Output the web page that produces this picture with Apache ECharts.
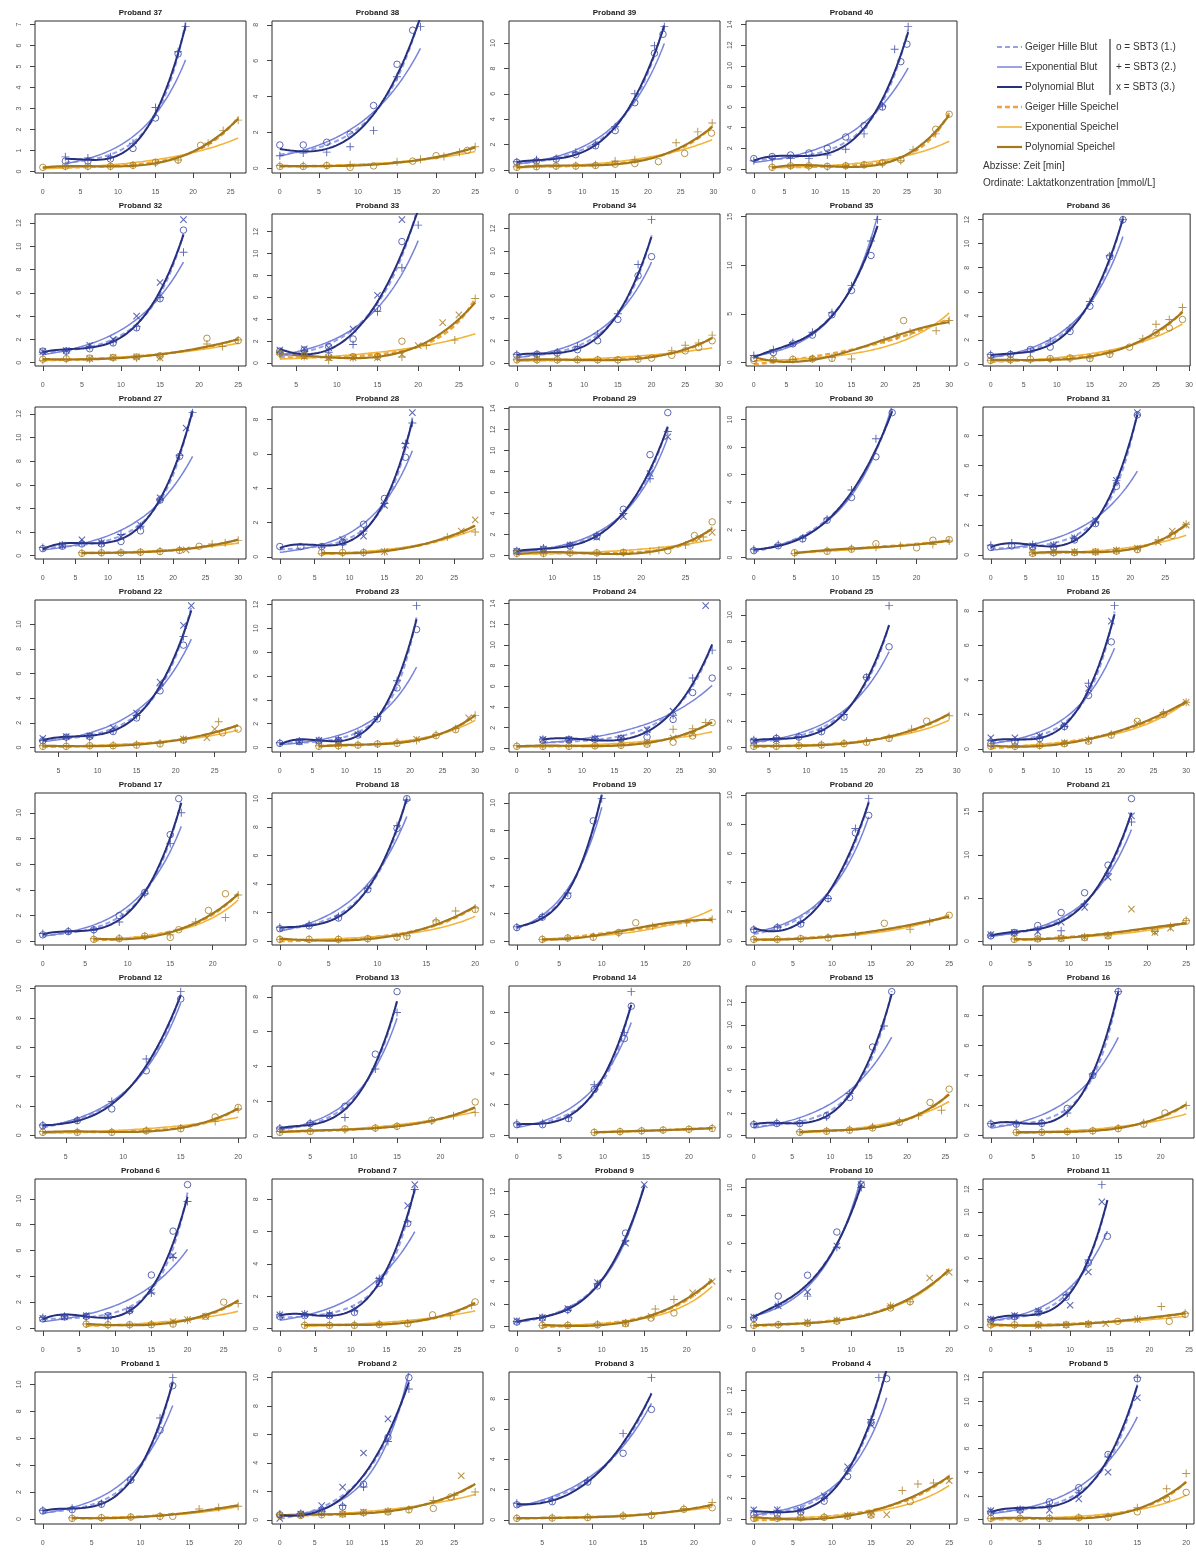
<!DOCTYPE html>
<html>
<head>
<meta charset="utf-8">
<script src="https://cdn.jsdelivr.net/npm/echarts@6/dist/echarts.min.js"></script>
<style>
  html, body { margin: 0; padding: 0; background: #fff; }
  #chart { width: 1196px; height: 1553px; }
</style>
</head>
<body>
<div id="chart"></div>
<script>
// Lactate step tests (SBT3, three runs per subject): blood and saliva lactate [mmol/L] over time [min].
// Each subject: [run 1 (o), run 2 (+), run 3 (x)], each a list of [minute, lactate].

const blut37 = [[[3,0.5],[6,0.5],[9,0.6],[12,1.1],[15,2.55],[18,5.6]],[[3,0.7],[6,0.65],[9,0.7],[12,1.35],[15,3.05],[18,5.7],[19,6.9]],[]];
const speichel37 = [[[0,0.2],[3,0.25],[6,0.25],[9,0.25],[12,0.3],[15,0.45],[18,0.55],[21,1.25]],[[3,0.25],[6,0.25],[9,0.25],[12,0.3],[15,0.4],[18,0.55],[22,1.35],[24,1.95],[26,2.45]],[]];
const blut38 = [[[0,1.3],[3,1.3],[6,1.45],[9,1.9],[12,3.5],[15,5.8],[17,7.7]],[[0,0.7],[3,0.85],[6,0.9],[9,1.2],[12,2.1],[15,5.1],[18,7.9]],[]];
const speichel38 = [[[0,0.1],[3,0.1],[6,0.15],[9,0.05],[12,0.13],[17,0.4],[20,0.7],[24,1.0]],[[0,0.15],[3,0.15],[6,0.15],[9,0.2],[15,0.37],[18,0.5],[21,0.65],[23,0.9],[25,1.2]],[]];
const blut39 = [[[0,0.6],[3,0.7],[6,0.85],[9,1.2],[12,1.9],[15,3.1],[18,5.3],[21,9.2],[22.3,10.7]],[[0,0.65],[3,0.8],[6,0.9],[9,1.4],[12,2.0],[15,3.4],[18,6.0],[21,9.8],[22.5,11.3]],[]];
const speichel39 = [[[0,0.2],[3,0.25],[6,0.3],[9,0.3],[12,0.35],[15,0.45],[18,0.5],[21.6,0.65],[25.6,1.3],[29.7,2.9]],[[0,0.25],[3,0.3],[6,0.3],[9,0.35],[12,0.4],[15,0.7],[18,0.8],[24.3,2.15],[27.6,3.0],[29.8,3.7]],[]];
const blut40 = [[[0,1.0],[3,1.2],[6,1.35],[9,1.55],[12,2.0],[15,3.1],[18,4.2],[21,6.0],[24,10.4],[25,12.1]],[[0,0.8],[3,1.0],[6,1.0],[9,1.0],[12,1.35],[15,1.9],[18,3.4],[21,6.1],[23,11.6],[25.2,13.8]],[]];
const speichel40 = [[[3,0.15],[6,0.3],[9,0.3],[12,0.25],[15,0.3],[18,0.4],[21,0.6],[24,0.9],[29.7,3.85],[31.9,5.3]],[[3,0.2],[6,0.3],[9,0.2],[12,0.2],[15,0.3],[18,0.4],[21,0.5],[24,0.8],[26,1.85],[29.7,3.4]],[]];

const blut32 = [[[0,1.0],[3,1.0],[6,1.2],[9,1.7],[12,3.0],[15,5.5],[18,11.4]],[[0,0.9],[3,1.0],[6,1.4],[9,1.8],[12,3.1],[15,5.6],[18,9.5]],[[0,0.95],[3,1.05],[6,1.5],[9,2.0],[12,4.0],[15,6.9],[18,12.3]]];
const speichel32 = [[[0,0.3],[3,0.35],[6,0.4],[9,0.45],[12,0.5],[15,0.6],[21,2.1],[25,1.9]],[[0,0.2],[3,0.3],[6,0.3],[9,0.4],[12,0.4],[15,0.5],[21,1.6],[23,1.4],[25,1.95]],[[6,0.35],[9,0.45],[12,0.5],[15,0.4]]];
const blut33 = [[[3,1.1],[6,1.2],[9,1.5],[12,2.2],[15,5.0],[18,11.1]],[[3,1.0],[6,1.1],[9,1.0],[12,1.7],[15,4.7],[18,8.7],[20,12.6]],[[3,1.2],[6,1.3],[9,1.4],[12,3.1],[15,6.2],[18,13.1]]];
const speichel33 = [[[3,0.9],[6,0.7],[9,0.6],[12,0.6],[15,0.6],[18,2.0]],[[3,0.8],[6,0.6],[9,0.25],[12,0.5],[15,0.55],[18,0.55],[21,1.6],[24.5,2.1],[27,5.9]],[[6,0.6],[9,0.5],[12,0.5],[15,0.5],[18,0.8],[20,1.6],[23,3.7],[25,4.4]]];
const blut34 = [[[0,0.7],[3,0.8],[6,0.9],[9,1.2],[12,2.0],[15,3.9],[18,7.8],[20,9.5]],[[0,0.8],[3,0.8],[6,1.0],[9,1.5],[12,2.6],[15,4.4],[18,8.8],[20,12.8]],[]];
const speichel34 = [[[0,0.3],[3,0.3],[6,0.3],[9,0.3],[12,0.3],[15,0.3],[18,0.35],[20,0.45],[23,0.7],[25,1.1],[27,1.4],[29,2.0]],[[0,0.3],[3,0.3],[6,0.3],[9,0.35],[12,0.3],[15,0.25],[18,0.4],[23,1.1],[25,1.6],[27,1.8],[29,2.5]],[]];
const blut35 = [[[0,0.4],[3,1.0],[6,1.9],[9,2.8],[12,4.9],[15,7.4],[18,11.0]],[[0,0.7],[3,1.3],[6,2.05],[9,3.1],[12,5.1],[15,7.9],[18,12.5],[19,14.7]],[]];
const speichel35 = [[[0,0.2],[3,0.25],[6,0.3],[9,0.35],[12,0.4],[23,4.3]],[[3,0.3],[6,0.3],[9,0.4],[12,0.5],[15,0.35],[20,2.3],[22,2.7],[24,3.1],[28,3.25],[30,4.3]],[]];
const blut36 = [[[0,0.7],[3,0.8],[6,1.2],[9,1.4],[12,2.7],[15,4.8],[18,8.9],[20,12.0]],[[0,0.8],[3,0.8],[6,1.0],[9,1.9],[12,3.0],[15,5.2],[18,9.0],[20,12.0]],[]];
const speichel36 = [[[0,0.3],[3,0.35],[6,0.4],[9,0.45],[12,0.5],[15,0.45],[18,0.8],[21,1.4],[25,2.6],[27,3.0],[29,3.7]],[[0,0.3],[3,0.3],[6,0.35],[9,0.4],[12,0.45],[15,0.5],[18,0.85],[23,2.1],[25,3.3],[27,3.7],[29,4.7]],[]];

const blut27 = [[[0,0.6],[3,0.8],[6,1.0],[9,1.0],[12,1.2],[15,2.1],[18,4.7],[21,8.4]],[[0,0.7],[3,0.9],[6,1.1],[9,1.1],[12,1.8],[15,2.5],[18,4.8],[21,8.5],[23,12.1]],[[3,0.9],[6,1.35],[9,1.1],[12,1.6],[15,2.6],[18,4.9],[22,10.8]]];
const speichel27 = [[[6,0.2],[9,0.25],[12,0.25],[15,0.3],[18,0.35],[21,0.45],[24,0.8]],[[6,0.25],[9,0.3],[12,0.3],[15,0.3],[18,0.4],[21,0.5],[26,1.0],[28,1.1],[30,1.3]],[[22,0.5]]];
const blut28 = [[[0,0.6],[3,0.6],[6,0.6],[9,0.85],[12,1.9],[15,3.4],[18,5.8]],[[6,0.55],[9,0.7],[12,1.5],[15,3.1],[18,6.6],[19,7.8]],[[9,1.0],[12,1.2],[15,3.0],[18,6.5],[19,8.4]]];
const speichel28 = [[[6,0.25],[9,0.25],[12,0.25]],[[6,0.2],[9,0.2],[12,0.25],[15,0.3],[24,1.15],[28,1.45]],[[15,0.3],[26,1.5],[28,2.15]]];
const blut29 = [[[6,0.4],[9,0.6],[12,0.9],[15,1.8],[18,4.4],[21,9.6],[23,13.6]],[[6,0.45],[9,0.7],[12,1.0],[15,1.9],[18,4.0],[21,7.3],[23,11.8]],[[6,0.4],[9,0.6],[12,1.0],[15,1.75],[18,3.7],[21,7.8],[23,11.3]]];
const speichel29 = [[[6,0.2],[9,0.2],[12,0.25],[15,0.25],[18,0.3],[23,0.45],[26,1.9],[28,3.2]],[[6,0.2],[9,0.2],[12,0.2],[15,0.25],[18,0.25],[21,0.4],[22,0.5],[25,1.0],[27,1.75]],[[26.5,1.6],[28,2.2]]];
const blut30 = [[[0,0.5],[3,0.85],[6,1.35],[9,2.7],[12,4.35],[15,7.3],[17,10.5]],[[0,0.6],[3,0.95],[6,1.4],[9,2.8],[12,4.9],[15,8.6]],[]];
const speichel30 = [[[5,0.35],[9,0.45],[12,0.6],[15,1.0],[20,0.7],[22,1.25],[24,1.3]],[[5,0.3],[9,0.5],[12,0.65],[15,0.75],[18,0.85],[22,0.95],[24,1.2]],[]];
const blut31 = [[[0,0.5],[3,0.6],[6,0.55],[9,0.5],[12,1.0],[15,2.1],[18,4.6],[21,9.4]],[[0,0.65],[3,0.8],[6,0.7],[9,0.65],[12,1.1],[15,2.2],[18,5.0]],[[6,0.6],[9,0.65],[12,1.15],[15,2.3],[18,5.0],[21,9.55]]];
const speichel31 = [[[6,0.1],[9,0.15],[12,0.15],[15,0.2],[18,0.25],[21,0.35],[26,1.3]],[[6,0.15],[9,0.15],[12,0.2],[15,0.2],[18,0.3],[21,0.4],[24,1.0],[28,2.05]],[[6,0.15],[9,0.2],[12,0.2],[15,0.2],[18,0.3],[21,0.45],[24,0.85],[26,1.6],[28,2.0]]];

const blut22 = [[[3,0.55],[6,0.85],[9,0.9],[12,1.3],[15,2.4],[18,4.6],[21,8.3]],[[3,0.6],[6,0.8],[9,0.85],[12,1.4],[15,2.6],[18,5.0],[21,9.0]],[[3,0.75],[6,0.9],[9,0.95],[12,1.6],[15,2.8],[18,5.3],[21,9.9],[22,11.5]]];
const speichel22 = [[[3,0.1],[6,0.1],[9,0.15],[12,0.15],[15,0.2],[18,0.3],[21,0.6],[26,1.2],[28,1.5]],[[3,0.15],[6,0.15],[9,0.2],[12,0.2],[15,0.25],[18,0.35],[21,0.65],[25.5,2.1]],[[21,0.7],[24,0.8],[25,1.5]]];
const blut23 = [[[0,0.35],[3,0.5],[6,0.55],[9,0.6],[12,1.05],[15,2.4],[18,5.0],[21,9.9]],[[0,0.4],[3,0.55],[6,0.6],[9,0.65],[12,1.2],[15,2.6],[18,5.6],[21,11.9]],[[3,0.5],[6,0.6],[9,0.6],[12,1.1]]];
const speichel23 = [[[6,0.1],[9,0.15],[12,0.2],[15,0.3],[18,0.35],[24,1.0],[27,1.5]],[[6,0.15],[9,0.15],[12,0.25],[15,0.3],[18,0.45],[21,0.6],[24,1.1],[27,1.6],[30,2.7]],[[21,0.7],[29,2.5]]];
const blut24 = [[[4,0.8],[8,0.85],[12,0.9],[16,0.95],[20,1.1],[24,2.8],[27,5.4],[30,6.8]],[[4,0.9],[8,0.9],[12,0.95],[16,1.0],[20,1.6],[24,3.2],[27,6.8],[30,9.5]],[[4,0.87],[8,0.87],[12,0.95],[16,1.0],[20,1.8],[24,3.6],[29,13.8]]];
const speichel24 = [[[0,0.2],[4,0.2],[8,0.2],[12,0.25],[16,0.3],[20,0.4],[24,0.6],[27,1.2],[30,2.5]],[[0,0.25],[4,0.25],[8,0.25],[12,0.3],[16,0.35],[20,0.55],[24,1.85],[27,1.9],[29,2.5]],[[20,0.5],[24,1.0],[27,1.4]]];
const blut25 = [[[3,0.5],[6,0.7],[9,0.8],[12,1.2],[15,2.3],[18,5.3],[21,7.6]],[[3,0.6],[6,0.75],[9,0.85],[12,1.3],[15,2.5],[18,5.3],[21,10.7]],[[3,0.5],[6,0.6]]];
const speichel25 = [[[3,0.1],[6,0.1],[9,0.15],[12,0.2],[15,0.3],[18,0.4],[21,0.7],[26,2.0]],[[3,0.15],[6,0.15],[9,0.2],[12,0.25],[15,0.35],[18,0.5],[21,0.75],[24,1.4],[29,2.4]],[]];
const blut26 = [[[0,0.3],[3.7,0.4],[7.5,0.6],[11.3,1.3],[15,3.1],[18.5,6.2]],[[0,0.5],[3.7,0.5],[7.5,0.7],[11.3,1.3],[15,3.8],[19,8.3]],[[0,0.65],[3.7,0.65],[7.5,0.75],[11.3,1.4],[15,3.5],[18.5,7.4]]];
const speichel26 = [[[0,0.15],[3.7,0.15],[7.5,0.2],[11.3,0.3],[15,0.45],[18.5,0.8],[22.5,1.6],[26.5,2.0]],[[0,0.2],[3.7,0.2],[7.5,0.2],[11.3,0.35],[15,0.55],[18.5,0.85],[26.5,2.1],[30,2.7]],[[11.3,0.35],[15,0.5],[22.5,1.5],[30,2.7]]];

const blut17 = [[[0,0.5],[3,0.75],[6,0.9],[9,2.0],[12,3.8],[15,8.3],[16,11.1]],[[0,0.6],[3,0.8],[6,0.85],[9,1.5],[12,3.7],[15,7.6],[16.3,10.0]],[]];
const speichel17 = [[[6,0.15],[9,0.2],[12,0.4],[15,0.3],[16,0.9],[19.5,2.4],[21.5,3.7]],[[6,0.2],[9,0.25],[12,0.4],[15,0.5],[18,1.5],[21.5,1.85],[23,3.6]],[]];
const blut18 = [[[0,0.85],[3,1.05],[6,1.6],[9,3.6],[12,7.9],[13,10.0]],[[0,0.95],[3,1.15],[6,1.7],[9,3.7],[12,8.1],[13,9.9]],[]];
const speichel18 = [[[0,0.1],[3,0.1],[6,0.1],[9,0.15],[12,0.25],[13,0.3],[16,1.3],[20,2.2]],[[0,0.1],[3,0.1],[6,0.1],[9,0.15],[12,0.3],[13,0.35],[16,1.4],[18,2.1],[20,2.3]],[]];
const blut19 = [[[0,1.0],[3,1.75],[6,3.3],[9,8.7]],[[0,1.05],[3,1.8],[6,3.5],[10,10.3]],[]];
const speichel19 = [[[3,0.15],[6,0.25],[9,0.3],[12,0.65],[14,1.35]],[[3,0.15],[6,0.25],[9,0.35],[12,0.6],[16,1.1],[20,1.35],[23,1.6]],[]];
const blut20 = [[[0,0.75],[3,0.9],[6,1.15],[9.5,2.9],[13,7.4],[14.7,8.6]],[[0,0.8],[3,0.95],[6,1.25],[9.5,2.9],[13,7.7],[14.7,9.75]],[]];
const speichel20 = [[[0,0.1],[3,0.1],[6,0.15],[9.5,0.2],[16.7,1.2],[25,1.75]],[[0,0.1],[3,0.1],[6,0.15],[9.5,0.25],[13,0.4],[20,0.8],[22.5,1.3]],[]];
const blut21 = [[[0,0.6],[3,1.0],[6,1.8],[9,3.3],[12,5.6],[15,8.8],[18,16.5]],[[0,0.7],[3,0.9],[6,1.3],[9,1.2],[12,4.3],[15,7.8],[18,13.8]],[[0,0.75],[3,1.0],[6,1.1],[9,2.2],[12,3.9],[15,7.4],[18,14.5]]];
const speichel21 = [[[3,0.2],[6,0.25],[9,0.3],[12,0.4],[15,0.6],[21,1.2],[25,2.3]],[[3,0.25],[6,0.3],[9,0.35],[12,0.5],[15,0.7],[21,1.1],[23,1.7],[25,2.4]],[[6,0.3],[9,0.35],[12,0.45],[15,0.65],[18,3.7],[21,1.0],[23,1.5]]];

const blut12 = [[[3,0.65],[6,1.0],[9,1.8],[12,4.4],[15,9.3]],[[3,0.7],[6,1.05],[9,2.3],[12,5.2],[15,9.8]],[]];
const speichel12 = [[[3,0.2],[6,0.2],[9,0.2],[12,0.3],[15,0.45],[18,1.25],[20,1.9]],[[3,0.25],[6,0.25],[9,0.25],[12,0.35],[15,0.5],[18,0.95],[20,1.8]],[]];
const blut13 = [[[1.5,0.4],[5,0.7],[9,1.7],[12.5,4.7],[15,8.3]],[[1.5,0.45],[5,0.75],[9,1.05],[12.5,3.85],[15,7.1]],[]];
const speichel13 = [[[1.5,0.2],[5,0.25],[9,0.4],[12.5,0.45],[15,0.55],[19,0.9],[24,1.95]],[[1.5,0.25],[5,0.3],[9,0.35],[12.5,0.45],[15,0.55],[19,0.85],[21.5,1.15],[24,1.35]],[]];
const blut14 = [[[0,0.7],[3,0.7],[6,1.1],[9,3.0],[12.5,6.3],[13.3,8.4]],[[0,0.8],[3,0.8],[6,1.15],[9,3.3],[12.5,6.7],[13.3,9.35]],[]];
const speichel14 = [[[9,0.2],[12,0.25],[14.5,0.3],[17,0.35],[20,0.4],[22.7,0.45]],[[9,0.2],[12,0.25],[14.5,0.3],[17,0.35],[20,0.4],[22.7,0.5]],[]];
const blut15 = [[[0,1.0],[3,1.1],[6,1.1],[9.5,1.8],[12.5,3.45],[15.5,8.0],[18,13.0]],[[0,1.05],[3,1.2],[6,1.2],[9.5,1.7],[12.5,3.8],[17,9.9]],[]];
const speichel15 = [[[6,0.3],[9.5,0.4],[12.5,0.5],[15.5,0.7],[19,1.2],[23,3.0],[25.5,4.2]],[[6,0.35],[9.5,0.45],[12.5,0.55],[15.5,0.8],[19,1.3],[21.5,1.8],[24.5,2.3]],[]];
const blut16 = [[[0,0.75],[3,0.75],[6,0.8],[9,1.8],[12,4.0],[15,9.6]],[[0,0.8],[3,0.8],[6,0.85],[9,1.5],[12,4.1],[15,9.6]],[]];
const speichel16 = [[[3,0.2],[6,0.2],[9,0.25],[12,0.3],[15,0.45],[18,0.75],[20.5,1.5]],[[3,0.2],[6,0.25],[9,0.25],[12,0.3],[15,0.5],[18,0.85],[23,2.0]],[]];

const blut6 = [[[0,0.7],[3,0.85],[6,0.9],[9,0.95],[12,1.35],[15,4.1],[18,7.5],[20,11.1]],[[0,0.8],[3,0.9],[6,0.9],[9,0.75],[12,1.3],[15,2.7],[18,5.45],[20,9.8]],[[0,0.75],[3,0.85],[6,0.95],[9,0.9],[12,1.4],[15,2.8],[18,5.6]]];
const speichel6 = [[[6,0.3],[9,0.25],[12,0.25],[15,0.25],[18,0.3],[22.5,0.9],[25,2.0]],[[6,0.3],[9,0.2],[12,0.25],[15,0.3],[18,0.4],[20,0.6],[27,1.9]],[[18,0.5],[20,0.65],[22.5,0.9]]];
const blut7 = [[[0,0.75],[3.5,0.8],[7,0.8],[10.5,1.0],[14,2.8],[18,6.5]],[[0,0.85],[3.5,0.9],[7,0.9],[10.5,1.1],[14,3.1],[18,6.6],[19,8.6]],[[0,0.85],[3.5,0.9],[7,0.85],[10.5,1.2],[14,3.0],[18,7.6],[19,8.9]]];
const speichel7 = [[[3.5,0.2],[7,0.2],[10.5,0.2],[14,0.25],[18,0.3],[21.5,0.85],[27.5,1.65]],[[3.5,0.25],[7,0.25],[10.5,0.25],[14,0.3],[18,0.35],[24,0.8],[27,1.45]],[]];
const blut9 = [[[0,0.4],[3,0.75],[6,1.5],[9.5,3.6],[12.8,8.3]],[[0,0.45],[3,0.8],[6,1.45],[9.5,3.8],[12.8,7.6]],[[0,0.5],[3,0.8],[6,1.6],[9.5,3.9],[12.8,7.4],[15,12.6]]];
const speichel9 = [[[3,0.1],[6,0.1],[9.5,0.15],[12.8,0.25],[15.8,0.75],[18.5,1.2]],[[3,0.1],[6,0.15],[9.5,0.2],[12.8,0.3],[16.3,1.55],[18.5,2.4]],[[12.8,0.3],[15.8,0.9],[20.7,3.0],[23,4.0]]];
const blut10 = [[[0,0.6],[2.5,2.2],[5.5,3.7],[8.5,6.8],[11,10.2]],[[0,0.65],[2.5,1.6],[5.5,2.2],[8.5,5.7],[11,10.0]],[[0,0.7],[2.5,1.5],[5.5,2.5],[8.5,5.8],[11,10.2]]];
const speichel10 = [[[0,0.1],[2.5,0.15],[5.5,0.25],[8.5,0.4],[14,1.35],[16,1.8]],[[0,0.1],[2.5,0.15],[5.5,0.3],[8.5,0.45],[14,1.5],[16,1.8]],[[5.5,0.3],[8.5,0.45],[14,1.45],[18,3.5],[20,3.9]]];
const blut11 = [[[0,0.6],[3,0.9],[6,1.25],[9.5,2.6],[12.3,5.6],[14.7,7.9]],[[0,0.65],[3,0.95],[6,1.35],[9.5,2.8],[12.3,5.85],[14,12.4]],[[0,0.7],[3,1.0],[6,1.4],[10,1.9],[12.3,4.8],[14,10.9]]];
const speichel11 = [[[0,0.2],[3,0.2],[6,0.2],[9.5,0.2],[12.3,0.25],[16,0.5],[22.5,0.5],[24.5,1.1]],[[0,0.2],[3,0.2],[6,0.2],[9.5,0.2],[12.3,0.3],[18.5,0.7],[21.5,1.8],[24.5,1.2]],[[6,0.15],[9.5,0.2],[12.3,0.25],[14.5,0.3],[18.5,0.65]]];

const blut1 = [[[0,0.6],[3,0.7],[6,1.1],[9,2.9],[12,6.6],[13.3,9.9]],[[0,0.65],[3,0.8],[6,1.15],[9,2.9],[12,7.5],[13.3,10.5]],[]];
const speichel1 = [[[3,0.05],[6,0.1],[9,0.15],[12,0.2],[13.3,0.2]],[[3,0.1],[6,0.1],[9,0.15],[12,0.2],[16,0.75],[18,0.85],[20,0.95]],[]];
const blut2 = [[[0,0.35],[3,0.4],[6,0.55],[9,0.9],[12,2.5],[15.5,5.8],[18.5,10.0]],[[0,0.4],[3,0.45],[6,0.6],[9,1.0],[12,2.3],[15.5,5.5],[18.5,9.2]],[[0,0.1],[3,0.4],[6,1.0],[9,2.3],[12,4.7],[15.5,7.1]]];
const speichel2 = [[[0,0.3],[3,0.3],[6,0.35],[9,0.4],[12,0.5],[15.5,0.55],[18.5,0.7],[22,0.8],[24.5,1.6]],[[0,0.35],[3,0.35],[6,0.4],[9,0.45],[12,0.5],[15.5,0.6],[18.5,0.75],[22,1.35],[25,1.7],[28,1.95]],[[9,0.4],[12,0.55],[15.5,0.6],[26,3.1]]];
const blut3 = [[[2.5,1.0],[6,1.2],[9.5,2.5],[13,4.4],[15.8,7.3]],[[2.5,1.1],[6,1.3],[9.5,2.6],[13,5.7],[15.8,9.4]],[]];
const speichel3 = [[[2.5,0.1],[6,0.12],[9.5,0.15],[13,0.25],[15.8,0.3],[19,0.7],[21.8,0.8]],[[2.5,0.12],[6,0.15],[9.5,0.2],[13,0.3],[15.8,0.35],[19,0.75],[21.8,1.15]],[]];
const blut4 = [[[0,0.45],[3,0.5],[6,0.7],[9,1.7],[12,4.0],[15,9.0],[17,13.1]],[[0,0.8],[3,0.85],[6,0.9],[9,2.0],[12,4.5],[15,9.3],[16,13.2]],[[0,0.9],[3,0.9],[6,0.85],[9,2.2],[12,4.9],[15,8.8]]];
const speichel4 = [[[0,0.1],[3,0.1],[6,0.15],[9,0.2],[12,0.3],[15,0.4],[20,1.65]],[[0,0.15],[3,0.15],[6,0.2],[9,0.25],[12,0.35],[15,0.5],[19,2.7],[21,3.3],[23,3.4],[25,3.8]],[[12,0.35],[15,0.45],[17,0.45],[25,3.6]]];
const blut5 = [[[0,0.6],[3,0.8],[6,1.5],[9,2.7],[12,5.5],[15,11.9]],[[0,0.7],[3,0.85],[6,1.2],[9,2.3],[12,5.3],[15,12.0]],[[0,0.75],[3,0.85],[6,0.8],[9,1.75],[12,4.0],[15,10.3]]];
const speichel5 = [[[0,0.1],[3,0.1],[6,0.1],[9,0.15],[12,0.2],[15,0.65],[18,1.75],[20,2.3]],[[0,0.1],[3,0.1],[6,0.15],[9,0.2],[12,0.25],[15,1.0],[18,2.6],[20,3.9]],[]];

// Panel order, row by row (0 marks the legend cell).
const panelOrder = [37,38,39,40,0, 32,33,34,35,36, 27,28,29,30,31, 22,23,24,25,26, 17,18,19,20,21, 12,13,14,15,16, 6,7,9,10,11, 1,2,3,4,5];
// Tick spacing of the lactate axis in each panel (same order), and of the time axis.
const yTickStep = [1,2,2,2,0, 2,2,2,5,2, 2,2,2,2,2, 2,2,2,2,2, 2,2,2,2,5, 2,2,2,2,2, 2,2,2,2,2, 2,2,2,2,2];
const xTickStep = 5;

const legendLines = ['Geiger Hille Blut','Exponential Blut','Polynomial Blut','Geiger Hille Speichel','Exponential Speichel','Polynomial Speichel'];
const legendRuns = ['o = SBT3 (1.)','+ = SBT3 (2.)','x = SBT3 (3.)'];
const axisNotes = ['Abzisse: Zeit [min]','Ordinate: Laktatkonzentration [mmol/L]'];

const blutSets = {1:blut1,2:blut2,3:blut3,4:blut4,5:blut5,6:blut6,7:blut7,9:blut9,10:blut10,11:blut11,12:blut12,13:blut13,14:blut14,15:blut15,16:blut16,17:blut17,18:blut18,19:blut19,20:blut20,21:blut21,22:blut22,23:blut23,24:blut24,25:blut25,26:blut26,27:blut27,28:blut28,29:blut29,30:blut30,31:blut31,32:blut32,33:blut33,34:blut34,35:blut35,36:blut36,37:blut37,38:blut38,39:blut39,40:blut40};
const speichelSets = {1:speichel1,2:speichel2,3:speichel3,4:speichel4,5:speichel5,6:speichel6,7:speichel7,9:speichel9,10:speichel10,11:speichel11,12:speichel12,13:speichel13,14:speichel14,15:speichel15,16:speichel16,17:speichel17,18:speichel18,19:speichel19,20:speichel20,21:speichel21,22:speichel22,23:speichel23,24:speichel24,25:speichel25,26:speichel26,27:speichel27,28:speichel28,29:speichel29,30:speichel30,31:speichel31,32:speichel32,33:speichel33,34:speichel34,35:speichel35,36:speichel36,37:speichel37,38:speichel38,39:speichel39,40:speichel40};

// ---- styling ----
const FONT = '"Liberation Sans", Arial, Helvetica, sans-serif';
const COL_X = [35, 272, 509, 746, 983];
const ROW_Y0 = 21, ROW_STEP = 193, PW = 211, PH = 152;
const BLUT_POINT = '#3443a0';
const SPEICHEL_POINT = '#a57a1e';
const CURVE = {
  ghBlut:   { color: '#97a1ea', width: 2,   type: [5, 3] },
  expBlut:  { color: '#7784da', width: 1.5, type: 'solid' },
  polyBlut: { color: '#252f7c', width: 2,   type: 'solid' },
  ghSp:     { color: '#eea536', width: 2.5, type: [5, 3] },
  expSp:    { color: '#f2b43a', width: 1.6, type: 'solid' },
  polySp:   { color: '#a3771c', width: 2.2, type: 'solid' }
};
const PLUS = 'path://M4.4,0H5.6V10H4.4Z M0,4.4H10V5.6H0Z';

// ---- least-squares fits of the three curve models ----
function solve(A, b) {
  const n = b.length;
  const M = A.map((row, i) => row.concat([b[i]]));
  for (let c = 0; c < n; c++) {
    let p = c;
    for (let r = c + 1; r < n; r++) if (Math.abs(M[r][c]) > Math.abs(M[p][c])) p = r;
    const tmp = M[c]; M[c] = M[p]; M[p] = tmp;
    const d = M[c][c];
    if (Math.abs(d) < 1e-12) return null;
    for (let r = 0; r < n; r++) {
      if (r === c) continue;
      const f = M[r][c] / d;
      for (let k = c; k <= n; k++) M[r][k] -= f * M[c][k];
    }
  }
  return M.map((row, i) => row[n] / row[i]);
}
function leastSquares(pts, basis) {
  const n = basis.length;
  const A = [], v = [];
  for (let i = 0; i < n; i++) { A.push(new Array(n).fill(0)); v.push(0); }
  pts.forEach(([x, y]) => {
    const f = basis.map(fn => fn(x));
    for (let i = 0; i < n; i++) {
      v[i] += f[i] * y;
      for (let j = 0; j < n; j++) A[i][j] += f[i] * f[j];
    }
  });
  return solve(A, v);
}
function fitPolynomial(pts) {
  const xs = pts.map(p => p[0]);
  const lo = Math.min(...xs), hi = Math.max(...xs);
  const mid = (lo + hi) / 2, half = (hi - lo) / 2 || 1;
  const deg = Math.min(3, new Set(xs).size - 1);
  const basis = [];
  for (let k = 0; k <= deg; k++) basis.push(x => Math.pow((x - mid) / half, k));
  const c = leastSquares(pts, basis);
  return x => basis.reduce((s, fn, k) => s + c[k] * fn(x), 0);
}
function fitExponential(pts) {
  const lp = pts.filter(p => p[1] > 0).map(([x, y]) => [x, Math.log(y)]);
  const c = leastSquares(lp, [() => 1, x => x]);
  return x => Math.exp(c[0] + c[1] * x);
}
function fitGeigerHille(pts) {
  const hi = Math.max(...pts.map(p => p[0]));
  let best = null;
  for (let b = 0.01; b <= 1.2; b += 0.005) {
    const basis = [() => 1, x => Math.exp(b * (x - hi))];
    const c = leastSquares(pts, basis);
    if (!c || c[1] <= 0) continue;
    let sse = 0;
    pts.forEach(([x, y]) => { const e = c[0] + c[1] * basis[1](x) - y; sse += e * e; });
    if (!best || sse < best.sse) best = { sse, c, b };
  }
  if (!best) return fitExponential(pts);
  return x => best.c[0] + best.c[1] * Math.exp(best.b * (x - hi));
}
function curve(fn, lo, hi) {
  const out = [];
  for (let k = 0; k <= 80; k++) { const x = lo + (hi - lo) * k / 80; out.push([x, fn(x)]); }
  return out;
}
function ticksWithin(lo, hi, step) {
  const out = [];
  for (let v = Math.ceil(lo / step - 1e-9) * step; v <= hi + 1e-9; v += step) out.push(Math.round(v * 1000) / 1000);
  return out;
}

// ---- build option ----
const grids = [], xAxes = [], yAxes = [], series = [], graphics = [];
let g = 0;
panelOrder.forEach((id, cell) => {
  if (!id) return;
  const col = cell % 5, row = Math.floor(cell / 5);
  const left = COL_X[col], top = ROW_Y0 + row * ROW_STEP;
  const blut = blutSets[id], sp = speichelSets[id];
  const allB = blut.flat(), allS = sp.flat(), all = allB.concat(allS);
  const xs = all.map(p => p[0]), ys = all.map(p => p[1]);
  const x0 = Math.min(...xs), x1 = Math.max(...xs), y0 = Math.min(...ys), y1 = Math.max(...ys);
  const px = 0.04 * (x1 - x0), py = 0.04 * (y1 - y0);
  const xr = [x0 - px, x1 + px], yr = [y0 - py, y1 + py];
  const xt = ticksWithin(xr[0], xr[1], xTickStep);
  const yt = ticksWithin(yr[0], yr[1], yTickStep[cell]);

  grids.push({ left, top, width: PW, height: PH, show: true, borderColor: '#2b2b2b', borderWidth: 1, backgroundColor: '#fff' });
  xAxes.push({
    type: 'value', gridIndex: g, min: xr[0], max: xr[1],
    axisLine: { show: false, onZero: false }, splitLine: { show: false },
    axisTick: { show: true, inside: false, length: 5, customValues: xt, lineStyle: { color: '#444', width: 1 } },
    axisLabel: { show: true, customValues: xt, fontSize: 7, color: '#555', margin: 16, fontFamily: FONT }
  });
  yAxes.push({
    type: 'value', gridIndex: g, min: yr[0], max: yr[1],
    axisLine: { show: false, onZero: false }, splitLine: { show: false },
    axisTick: { show: true, inside: false, length: 5, customValues: yt, lineStyle: { color: '#444', width: 1 } },
    axisLabel: { show: true, customValues: yt, rotate: 90, fontSize: 7, color: '#555', margin: 12, fontFamily: FONT }
  });

  const bLo = Math.min(...allB.map(p => p[0])), bHi = Math.max(...allB.map(p => p[0]));
  const sLo = Math.min(...allS.map(p => p[0])), sHi = Math.max(...allS.map(p => p[0]));
  const lines = [
    [fitGeigerHille(allS), sLo, sHi, CURVE.ghSp],
    [fitExponential(allS), sLo, sHi, CURVE.expSp],
    [fitPolynomial(allS), sLo, sHi, CURVE.polySp],
    [fitGeigerHille(allB), bLo, bHi, CURVE.ghBlut],
    [fitExponential(allB), bLo, bHi, CURVE.expBlut],
    [fitPolynomial(allB), bLo, bHi, CURVE.polyBlut]
  ];
  lines.forEach(([fn, lo, hi, st], k) => {
    series.push({
      type: 'line', xAxisIndex: g, yAxisIndex: g, data: curve(fn, lo, hi),
      showSymbol: false, symbol: 'none', clip: true, silent: true, z: 2 + k * 0.01,
      lineStyle: { color: st.color, width: st.width, type: st.type, cap: 'butt' }
    });
  });

  [[blut, BLUT_POINT], [sp, SPEICHEL_POINT]].forEach(([runs, color]) => {
    runs.forEach((pts, r) => {
      if (!pts.length) return;
      const s = { type: 'scatter', xAxisIndex: g, yAxisIndex: g, data: pts, silent: true, z: 4, clip: false };
      if (r === 0) {
        s.symbol = 'circle'; s.symbolSize = 6.5;
        s.itemStyle = { color: 'rgba(0,0,0,0)', borderColor: color, borderWidth: 1 };
      } else if (r === 1) {
        s.symbol = PLUS; s.symbolSize = 8; s.itemStyle = { color };
      } else {
        s.symbol = PLUS; s.symbolSize = 9; s.symbolRotate = 45; s.itemStyle = { color };
      }
      series.push(s);
    });
  });

  graphics.push({
    type: 'text', x: left + PW / 2, y: top - 8, silent: true,
    style: { text: 'Proband ' + id, align: 'center', verticalAlign: 'middle', font: 'bold 8px ' + FONT, fill: '#222' }
  });
  g++;
});

// ---- legend (top right cell) ----
const legendStyles = [CURVE.ghBlut, CURVE.expBlut, CURVE.polyBlut, CURVE.ghSp, CURVE.expSp, CURVE.polySp];
const legendY = [47, 67, 87, 107, 127, 147];
legendLines.forEach((label, i) => {
  const st = legendStyles[i];
  graphics.push({
    type: 'line', silent: true,
    shape: { x1: 997, y1: legendY[i], x2: 1022, y2: legendY[i] },
    style: { stroke: st.color, lineWidth: st.width, lineDash: Array.isArray(st.type) ? st.type : null }
  });
  graphics.push({
    type: 'text', x: 1025, y: legendY[i], silent: true,
    style: { text: label, align: 'left', verticalAlign: 'middle', font: '10px ' + FONT, fill: '#333' }
  });
});
graphics.push({ type: 'line', silent: true, shape: { x1: 1110, y1: 39, x2: 1110, y2: 95 }, style: { stroke: '#333', lineWidth: 1.2 } });
legendRuns.forEach((label, i) => {
  graphics.push({
    type: 'text', x: 1116, y: legendY[i], silent: true,
    style: { text: label, align: 'left', verticalAlign: 'middle', font: '10px ' + FONT, fill: '#333' }
  });
});
axisNotes.forEach((label, i) => {
  graphics.push({
    type: 'text', x: 983, y: 166 + i * 17, silent: true,
    style: { text: label, align: 'left', verticalAlign: 'middle', font: '10px ' + FONT, fill: '#333' }
  });
});

const chart = echarts.init(document.getElementById('chart'), null, { renderer: 'canvas' });
chart.setOption({
  animation: false,
  backgroundColor: '#fff',
  textStyle: { fontFamily: FONT },
  grid: grids,
  xAxis: xAxes,
  yAxis: yAxes,
  series,
  graphic: graphics
});
</script>
</body>
</html>
